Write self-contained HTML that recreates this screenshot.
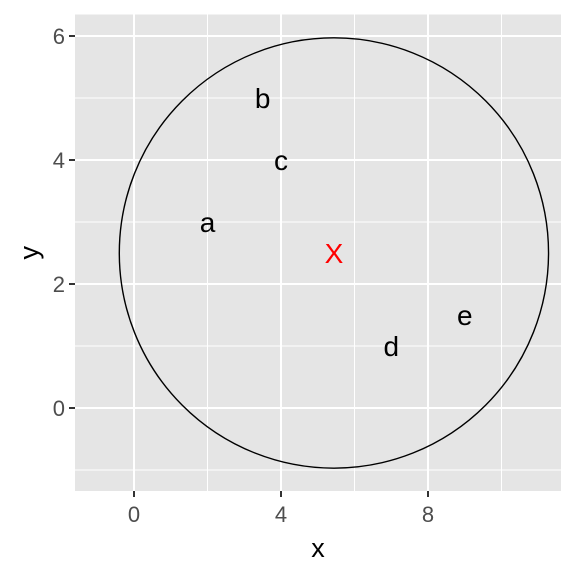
<!DOCTYPE html>
<html><head><meta charset="utf-8"><style>body{margin:0;background:#fff}svg{display:block;font-family:"Liberation Sans",sans-serif}</style></head>
<body>
<svg id="chart" width="576" height="576"></svg>
<script>
const labels = ['a','b','c','d','e'];
const xs = [2, 3.5, 4, 7, 9];
const ys = [3, 5, 4, 1, 1.5];
const centerX = [5.44];
const centerY = [2.5];
const circleRx = [5.84];
const circleRy = [3.47];
const xMajor = [0, 4, 8];
const xMinor = [2, 6, 10];
const yMajor = [0, 2, 4, 6];
const yMinor = [-1, 1, 3, 5];

const L=75,R=561,T=14.5,B=491;
const sx = v => 134 + v*36.75;
const sy = v => 408 - v*62;
const NS='http://www.w3.org/2000/svg';
const svg=document.getElementById('chart');
function mk(tag,at,parent){const e=document.createElementNS(NS,tag);for(const k in at)e.setAttribute(k,at[k]);(parent||svg).appendChild(e);return e;}
const bg=mk('rect',{x:L,y:T,width:R-L,height:B-T,fill:'#e5e5e5'});


xMinor.forEach(v=>{const l=mk('line',{x1:sx(v),x2:sx(v),y1:T,y2:B,stroke:'#fff','stroke-width':1});

});
yMinor.forEach(v=>{const l=mk('line',{x1:L,x2:R,y1:sy(v),y2:sy(v),stroke:'#fff','stroke-width':1});

});
xMajor.forEach(v=>{const l=mk('line',{x1:sx(v),x2:sx(v),y1:T,y2:B,stroke:'#fff','stroke-width':2});


const t=mk('line',{x1:sx(v),x2:sx(v),y1:B,y2:B+6,stroke:'#333','stroke-width':2});


const tx=mk('text',{x:sx(v),y:B+31,'text-anchor':'middle','font-size':22,fill:'#4d4d4d'});tx.textContent=v;

});
yMajor.forEach(v=>{const l=mk('line',{x1:L,x2:R,y1:sy(v),y2:sy(v),stroke:'#fff','stroke-width':2});


const t=mk('line',{x1:L-6,x2:L,y1:sy(v),y2:sy(v),stroke:'#333','stroke-width':2});


const tx=mk('text',{x:L-10,y:sy(v)+8,'text-anchor':'end','font-size':22,fill:'#4d4d4d'});tx.textContent=v;

});
const c=mk('ellipse',{cx:sx(centerX[0]),cy:sy(centerY[0]),rx:circleRx[0]*36.75,ry:circleRy[0]*62,fill:'none',stroke:'#000','stroke-width':1.4});


labels.forEach((s,i)=>{const t=mk('text',{x:sx(xs[i]),y:sy(ys[i])+10,'text-anchor':'middle','font-size':28,fill:'#000'});t.textContent=s;

});
const cx=mk('text',{x:sx(centerX[0]),y:sy(centerY[0])+10,'text-anchor':'middle','font-size':28,fill:'#ff0000'});cx.textContent='X';


const xt=mk('text',{x:(L+R)/2,y:557,'text-anchor':'middle','font-size':27,fill:'#000'});xt.textContent='x';


const yt=mk('text',{x:0,y:0,'text-anchor':'middle','font-size':27,fill:'#000',transform:'translate(38,'+((T+B)/2)+') rotate(-90)'});yt.textContent='y';


</script>
</body></html>
